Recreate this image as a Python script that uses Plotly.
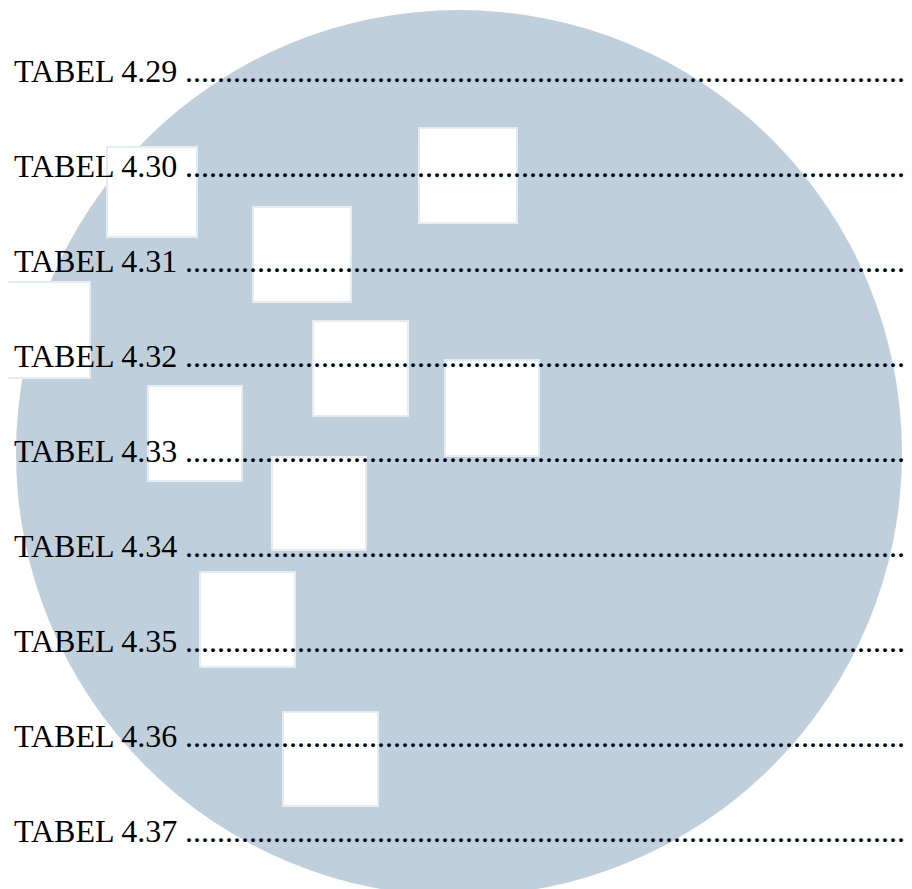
import plotly.graph_objects as go

# ---- data ----
labels = ["TABEL 4.29", "TABEL 4.30", "TABEL 4.31", "TABEL 4.32", "TABEL 4.33",
          "TABEL 4.34", "TABEL 4.35", "TABEL 4.36", "TABEL 4.37"]
row_index = list(range(len(labels)))

# ---- layout constants ----
W, H = 912, 889
OFF = 8  # browser body margin compensation
first_baseline = 82
row_step = 95
leader = "." * 91

fig = go.Figure()

# watermark circle
shapes = [dict(type="circle", xref="x", yref="y", x0=16, x1=902, y0=10, y1=896,
               fillcolor="#C0CFDC", line=dict(width=0), layer="below")]
# white squares of the watermark
squares = [(107, 147, 197, 237), (253, 207, 351, 302), (419, 128, 517, 223),
           (-15, 282, 90, 378), (313, 321, 408, 416), (445, 360, 539, 456),
           (148, 386, 242, 481), (272, 457, 366, 550), (200, 572, 295, 667),
           (283, 712, 378, 806)]
for (a, b, c, d) in squares:
    shapes.append(dict(type="rect", xref="x", yref="y", x0=a, x1=c, y0=b, y1=d,
                       fillcolor="#FFFFFF", line=dict(color="#E4EBF1", width=2),
                       layer="below"))

font = dict(family="Liberation Serif", size=32, color="#000000")
annotations = []
for i, lab in zip(row_index, labels):
    yc = first_baseline + row_step * i - 11
    annotations.append(dict(x=14, y=yc, xref="x", yref="y", text=lab,
                            showarrow=False, xanchor="left", yanchor="middle",
                            borderpad=0, borderwidth=0, font=font))
    annotations.append(dict(x=185, y=yc, xref="x", yref="y", text=leader,
                            showarrow=False, xanchor="left", yanchor="middle",
                            borderpad=0, borderwidth=0, font=font))

fig.update_layout(width=W, height=H, margin=dict(l=0, r=0, t=0, b=0),
                  paper_bgcolor="white", plot_bgcolor="white",
                  xaxis=dict(range=[OFF, W + OFF], visible=False, fixedrange=True),
                  yaxis=dict(range=[H + OFF, OFF], visible=False, fixedrange=True),
                  shapes=shapes, annotations=annotations, showlegend=False)

fig.write_html("out.html")
